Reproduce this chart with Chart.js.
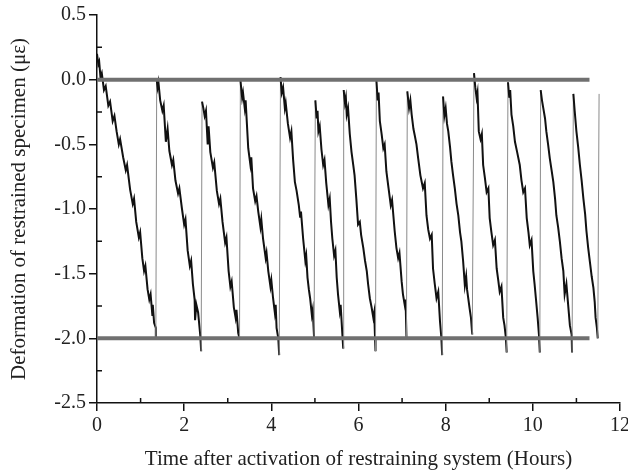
<!DOCTYPE html>
<html>
<head>
<meta charset="utf-8">
<script src="https://cdn.jsdelivr.net/npm/chart.js@4/dist/chart.umd.min.js"></script>
<style>
  body { margin: 0; background: #fff; }
  canvas { display: block; }
</style>
</head>
<body>
<canvas id="deformChart" width="628" height="472"></canvas>
<script>
// Measured deformation, one line per restraining cycle
const hours = [
    0.00, 0.03, 0.05, 0.08, 0.11, 0.16, 0.20, 0.26, 0.30, 0.36, 0.40, 0.45, 0.50, 0.53, 0.60, 0.66, 0.69, 0.76, 0.82, 0.85, 0.90, 0.96, 0.99, 1.04, 1.08, 1.11, 1.16, 1.20, 1.23, 1.27, 1.28, 1.31, 1.35, 1.35,
    1.37, 1.39, 1.41, 1.45, 1.50, 1.53, 1.58, 1.62, 1.66, 1.72, 1.75, 1.80, 1.86, 1.89, 1.95, 2.00, 2.03, 2.08, 2.13, 2.16, 2.20, 2.24, 2.25, 2.28, 2.32, 2.37, 2.39,
    2.41, 2.44, 2.47, 2.50, 2.54, 2.56, 2.60, 2.66, 2.69, 2.75, 2.80, 2.83, 2.88, 2.94, 2.97, 3.02, 3.06, 3.09, 3.14, 3.18, 3.20, 3.24, 3.27,
    3.29, 3.33, 3.35, 3.39, 3.41, 3.47, 3.52, 3.54, 3.58, 3.63, 3.66, 3.70, 3.75, 3.77, 3.81, 3.87, 3.89, 3.93, 3.98, 4.00, 4.04, 4.08, 4.10, 4.12, 4.16, 4.18,
    4.21, 4.24, 4.27, 4.31, 4.33, 4.38, 4.43, 4.46, 4.50, 4.54, 4.58, 4.63, 4.66, 4.68, 4.73, 4.78, 4.80, 4.83, 4.86, 4.89, 4.93, 4.95, 4.98,
    5.01, 5.04, 5.06, 5.08, 5.11, 5.15, 5.19, 5.22, 5.26, 5.31, 5.34, 5.37, 5.40, 5.44, 5.47, 5.50, 5.53, 5.57, 5.59, 5.63, 5.65,
    5.66, 5.69, 5.71, 5.73, 5.76, 5.80, 5.84, 5.88, 5.91, 5.95, 5.99, 6.03, 6.06, 6.11, 6.15, 6.19, 6.22, 6.26, 6.30, 6.34, 6.36, 6.38, 6.39,
    6.41, 6.44, 6.46, 6.49, 6.53, 6.57, 6.60, 6.64, 6.69, 6.74, 6.77, 6.83, 6.87, 6.91, 6.94, 6.99, 7.02, 7.06, 7.08, 7.10,
    7.12, 7.16, 7.19, 7.22, 7.26, 7.29, 7.33, 7.37, 7.42, 7.48, 7.52, 7.56, 7.60, 7.64, 7.68, 7.71, 7.75, 7.79, 7.83, 7.87, 7.90, 7.92,
    7.94, 7.97, 8.00, 8.03, 8.06, 8.10, 8.13, 8.17, 8.21, 8.25, 8.29, 8.33, 8.36, 8.40, 8.44, 8.47, 8.49, 8.55, 8.58, 8.61,
    8.65, 8.68, 8.71, 8.73, 8.76, 8.80, 8.83, 8.86, 8.90, 8.94, 8.98, 9.01, 9.05, 9.09, 9.13, 9.17, 9.21, 9.24, 9.28, 9.32, 9.35, 9.38, 9.40,
    9.43, 9.46, 9.48, 9.51, 9.55, 9.59, 9.64, 9.70, 9.74, 9.78, 9.82, 9.86, 9.90, 9.93, 9.97, 10.01, 10.04, 10.07, 10.11, 10.14, 10.16,
    10.18, 10.21, 10.24, 10.28, 10.31, 10.35, 10.39, 10.43, 10.47, 10.51, 10.54, 10.58, 10.62, 10.66, 10.70, 10.73, 10.77, 10.81, 10.85, 10.89, 10.90,
    10.93, 10.96, 11.00, 11.04, 11.08, 11.12, 11.16, 11.20, 11.23, 11.27, 11.31, 11.35, 11.39, 11.42, 11.44, 11.47, 11.49, 11.52
];
const strain = [
    0.20, 0.12, 0.14, 0.02, 0.05, -0.08, -0.05, -0.20, -0.17, -0.32, -0.28, -0.40, -0.50, -0.46, -0.60, -0.70, -0.66, -0.85, -0.96, -0.92, -1.10, -1.22, -1.18, -1.38, -1.48, -1.44, -1.62, -1.70, -1.66, -1.82, -1.74, -1.88, -1.92, -2.00,
    0.00, -0.06, -0.02, -0.16, -0.24, -0.20, -0.48, -0.38, -0.55, -0.66, -0.62, -0.78, -0.88, -0.84, -1.00, -1.12, -1.08, -1.32, -1.44, -1.40, -1.58, -1.70, -1.86, -1.74, -1.80, -1.98, -2.10,
    -0.17, -0.22, -0.28, -0.24, -0.50, -0.36, -0.56, -0.68, -0.64, -0.86, -0.96, -0.92, -1.10, -1.26, -1.22, -1.48, -1.60, -1.56, -1.76, -1.84, -1.78, -1.96, -2.00,
    0.00, -0.14, -0.10, -0.22, -0.16, -0.53, -0.66, -0.60, -0.84, -0.94, -0.90, -1.02, -1.14, -1.08, -1.23, -1.38, -1.34, -1.48, -1.60, -1.55, -1.69, -1.80, -1.74, -1.92, -2.00, -2.13,
    0.02, -0.10, -0.06, -0.22, -0.18, -0.34, -0.45, -0.40, -0.62, -0.79, -0.86, -0.97, -1.06, -1.02, -1.23, -1.40, -1.36, -1.53, -1.62, -1.69, -1.82, -1.78, -1.99,
    -0.16, -0.30, -0.24, -0.40, -0.36, -0.54, -0.66, -0.62, -0.80, -0.97, -0.92, -1.10, -1.23, -1.36, -1.32, -1.53, -1.66, -1.79, -1.74, -1.97, -2.08,
    -0.08, -0.18, -0.14, -0.27, -0.22, -0.42, -0.56, -0.66, -0.74, -0.92, -1.12, -1.10, -1.20, -1.30, -1.40, -1.48, -1.58, -1.69, -1.76, -1.84, -1.80, -2.00, -2.10,
    0.00, -0.16, -0.10, -0.32, -0.42, -0.53, -0.50, -0.71, -0.84, -0.97, -0.93, -1.17, -1.30, -1.38, -1.34, -1.56, -1.66, -1.74, -1.70, -1.99,
    -0.09, -0.22, -0.16, -0.27, -0.38, -0.43, -0.50, -0.61, -0.74, -0.84, -0.80, -1.05, -1.16, -1.23, -1.20, -1.46, -1.58, -1.69, -1.64, -1.87, -1.99, -2.13,
    -0.13, -0.28, -0.22, -0.34, -0.40, -0.52, -0.63, -0.74, -0.84, -0.96, -1.05, -1.18, -1.25, -1.40, -1.59, -1.52, -1.62, -1.77, -1.84, -1.97,
    0.05, -0.06, -0.14, -0.10, -0.40, -0.46, -0.42, -0.66, -0.76, -0.87, -0.84, -1.07, -1.18, -1.28, -1.24, -1.46, -1.56, -1.64, -1.60, -1.84, -1.90, -1.99, -2.11,
    -0.02, -0.14, -0.08, -0.27, -0.36, -0.48, -0.56, -0.66, -0.78, -0.87, -0.84, -1.07, -1.18, -1.28, -1.24, -1.48, -1.58, -1.69, -1.84, -1.97, -2.11,
    -0.08, -0.16, -0.22, -0.30, -0.40, -0.50, -0.61, -0.70, -0.79, -0.92, -1.05, -1.14, -1.25, -1.38, -1.48, -1.66, -1.58, -1.74, -1.90, -1.97, -2.11,
    -0.11, -0.24, -0.40, -0.52, -0.66, -0.78, -0.92, -1.04, -1.17, -1.30, -1.41, -1.52, -1.61, -1.72, -1.84, -1.92, -2.00, -0.11
];

// Restraint trigger limits
const limitHours = [0, 11.3];
const upperLimit = [0, 0];
const lowerLimit = [-2, -2];

// Axis ticks
const xTicks = [0, 2, 4, 6, 8, 10, 12];
const xMinorTicks = [1, 3, 5, 7, 9, 11];
const yTicks = [0.5, 0.0, -0.5, -1.0, -1.5, -2.0, -2.5];
const yMinorTicks = [0.25, -0.25, -0.75, -1.25, -1.75, -2.25];

const serif = 'Liberation Serif';

const toPoints = (xs, ys) => xs.map((x, i) => ({ x: x, y: ys[i] }));

// small inward ticks between the labelled ones
const minorTicks = {
    id: 'minorTicks',
    afterDraw(chart) {
        const ctx = chart.ctx;
        const xs = chart.scales.x, ys = chart.scales.y;
        const area = chart.chartArea;
        ctx.save();
        ctx.strokeStyle = '#111';
        ctx.lineWidth = 1.5;
        ctx.beginPath();
        xMinorTicks.forEach(v => {
            const px = xs.getPixelForValue(v);
            ctx.moveTo(px, area.bottom);
            ctx.lineTo(px, area.bottom - 5);
        });
        yMinorTicks.forEach(v => {
            const py = ys.getPixelForValue(v);
            ctx.moveTo(area.left, py);
            ctx.lineTo(area.left + 5, py);
        });
        ctx.stroke();
        ctx.restore();
    }
};

new Chart(document.getElementById('deformChart'), {
    type: 'line',
    data: {
        datasets: [
            {
                data: toPoints(limitHours, upperLimit),
                borderColor: '#707070',
                borderWidth: 4,
                pointRadius: 0
            },
            {
                data: toPoints(limitHours, lowerLimit),
                borderColor: '#707070',
                borderWidth: 4,
                pointRadius: 0
            },
            {
                data: toPoints(hours, strain),
                borderColor: '#111',
                borderWidth: 2,
                pointRadius: 0,
                tension: 0,
                segment: {
                    // resets (big jumps up) are thin grey
                    borderColor: c => (c.p1.parsed.y - c.p0.parsed.y > 0.5 ? '#8a8a8a' : '#111'),
                    borderWidth: c => (c.p1.parsed.y - c.p0.parsed.y > 0.5 ? 1 : 2)
                }
            }
        ]
    },
    options: {
        responsive: false,
        animation: false,
        layout: { padding: { left: 0, right: 8, top: 15, bottom: 0 } },
        plugins: {
            legend: { display: false },
            tooltip: { enabled: false }
        },
        scales: {
            x: {
                type: 'linear',
                min: 0,
                max: 12,
                afterBuildTicks: s => { s.ticks = xTicks.map(v => ({ value: v })); },
                afterFit: s => { s.height = 69; s.paddingRight = 8; s.paddingLeft = 0; },
                border: { display: true, color: '#111', width: 1.5 },
                grid: { display: true, drawOnChartArea: false, drawTicks: true, tickLength: 8, color: '#111', lineWidth: 1.5 },
                ticks: { color: '#222', padding: 3, font: { family: serif, size: 20 } },
                title: {
                    display: true,
                    text: 'Time after activation of restraining system (Hours)',
                    color: '#222',
                    font: { family: serif, size: 21 },
                    padding: { top: 0, bottom: 0 }
                }
            },
            y: {
                type: 'linear',
                min: -2.5,
                max: 0.5,
                afterBuildTicks: s => { s.ticks = yTicks.map(v => ({ value: v })); },
                afterFit: s => { s.width = 97; },
                border: { display: true, color: '#111', width: 1.5 },
                grid: { display: true, drawOnChartArea: false, drawTicks: true, tickLength: 8, color: '#111', lineWidth: 1.5 },
                ticks: {
                    color: '#222',
                    padding: 3,
                    font: { family: serif, size: 20 },
                    callback: v => v.toFixed(1)
                },
                title: {
                    display: true,
                    text: 'Deformation of restrained specimen (με)',
                    color: '#222',
                    font: { family: serif, size: 21 },
                    padding: { top: 7, bottom: 0 }
                }
            }
        }
    },
    plugins: [minorTicks]
});
</script>
</body>
</html>
